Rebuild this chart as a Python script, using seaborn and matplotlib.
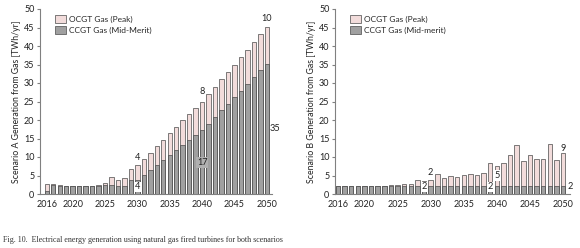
import matplotlib
matplotlib.use("Agg")
import matplotlib.pyplot as plt
import seaborn as sns
from matplotlib.patches import Patch

# Gas generation [TWh/yr], 2016-2050
years = list(range(2016, 2051))

a_total = [2.8, 2.8, 2.3, 2.2, 2.2, 2.2, 2.2, 2.2, 2.3, 3.0,
           4.6, 3.8, 4.4, 6.8, 7.8, 9.5, 11.2, 13.0, 14.7, 16.4,
           18.1, 19.9, 21.6, 23.3, 25.0, 26.9, 28.9, 31.0, 33.0, 35.0,
           37.0, 39.0, 41.1, 43.2, 45.2]
a_ccgt = [0.8, 2.4, 2.2, 2.2, 2.2, 2.2, 2.2, 2.2, 2.2, 2.3,
          2.3, 2.2, 2.2, 3.8, 3.8, 5.2, 6.6, 7.9, 9.2, 10.5,
          11.9, 13.3, 14.5, 16.0, 17.2, 19.0, 20.8, 22.6, 24.3, 26.1,
          27.9, 29.8, 31.5, 33.4, 35.2]

b_total = [2.2, 2.2, 2.2, 2.2, 2.2, 2.2, 2.2, 2.2, 2.3, 2.3,
           2.7, 2.8, 3.8, 3.4, 3.7, 5.3, 4.3, 4.8, 4.6, 5.2,
           5.3, 5.2, 5.6, 8.4, 7.7, 8.4, 10.5, 13.2, 9.0, 10.6,
           9.5, 9.5, 13.5, 9.2, 11.0]
b_ccgt = [2.2] * 35

tick_years = [2016, 2020, 2025, 2030, 2035, 2040, 2045, 2050]

# data labels: (year, y, text, box)
a_labels = [(2030, 9.8, "4", False), (2030, 2.0, "4", True),
            (2040, 27.6, "8", False), (2040, 8.6, "17", "gray"),
            (2050, 47.4, "10", False), (2051.3, 17.6, "35", False)]
b_labels = [(2030, 5.9, "2", False), (2029.1, 1.9, "2", True),
            (2039, 1.9, "2", True), (2040, 5.0, "5", True),
            (2050, 12.3, "9", False), (2051.1, 1.9, "2", False)]

sns.set_style("white")
plt.rcParams["font.family"] = ["Lato", "DejaVu Sans"]

peak_col = "#f2dcdb"
mid_col = "#a0a0a0"
edge_col = "#4a4a4a"

fig = plt.figure(figsize=(5.8, 2.48), dpi=100)
ax_a = fig.add_axes([40 / 580, 1 - 194 / 248, 232 / 580, 185 / 248])
ax_b = fig.add_axes([335 / 580, 1 - 194 / 248, 235 / 580, 185 / 248])


def draw(ax, total, ccgt, scen, mid_name, labels, xlim):
    sns.barplot(x=years, y=total, color=peak_col, saturation=1, width=0.68,
                edgecolor=edge_col, linewidth=0.5, ax=ax)
    sns.barplot(x=years, y=ccgt, color=mid_col, saturation=1, width=0.68,
                edgecolor=edge_col, linewidth=0.5, ax=ax)
    ax.set_ylim(0, 50)
    ax.set_yticks(range(0, 51, 5))
    ax.set_xlim(*xlim)
    ax.set_xticks([years.index(y) for y in tick_years])
    ax.set_xticklabels([str(y) for y in tick_years])
    ax.tick_params(axis="both", labelsize=6.5, colors="#222222", length=0)
    ax.tick_params(axis="x", pad=4)
    ax.tick_params(axis="y", length=2, color="#808080", direction="out",
                   left=True, pad=2)
    for s in ["top", "right"]:
        ax.spines[s].set_visible(False)
    for s in ["left", "bottom"]:
        ax.spines[s].set_color("#808080")
        ax.spines[s].set_linewidth(0.8)
    ax.set_ylabel("Scenario %s Generation from Gas [TWh/yr]" % scen,
                  fontsize=6.3, color="#222222", labelpad=2)
    handles = [Patch(facecolor=peak_col, edgecolor=edge_col, linewidth=0.5),
               Patch(facecolor=mid_col, edgecolor=edge_col, linewidth=0.5)]
    ax.legend(handles, ["OCGT Gas (Peak)", mid_name], loc="upper left",
              bbox_to_anchor=(0.05, 0.985), frameon=False, fontsize=6.0,
              handlelength=1.3, handleheight=1.1, handletextpad=0.4,
              labelspacing=0.3, borderaxespad=0)
    for yr, yv, txt, box in labels:
        x = yr - years[0]
        kw = {}
        if box == "gray":
            kw["bbox"] = dict(facecolor="#b0b0b0", edgecolor="none", pad=0.6)
        elif box:
            kw["bbox"] = dict(facecolor="white", edgecolor="none", pad=0.4)
        ax.text(x, yv, txt, ha="center", va="center", fontsize=6.6,
                color="#222222", **kw)


draw(ax_a, a_total, a_ccgt, "A", "CCGT Gas (Mid-Merit)", a_labels, (-1.05, 34.8))
draw(ax_b, b_total, b_ccgt, "B", "CCGT Gas (Mid-merit)", b_labels, (-0.45, 35.05))

fig.text(0.005, 0.032,
         "Fig. 10.  Electrical energy generation using natural gas fired turbines for both scenarios",
         fontsize=5.8, family="Liberation Serif", color="#333333", va="center")

fig.savefig("out.png", dpi=100)
